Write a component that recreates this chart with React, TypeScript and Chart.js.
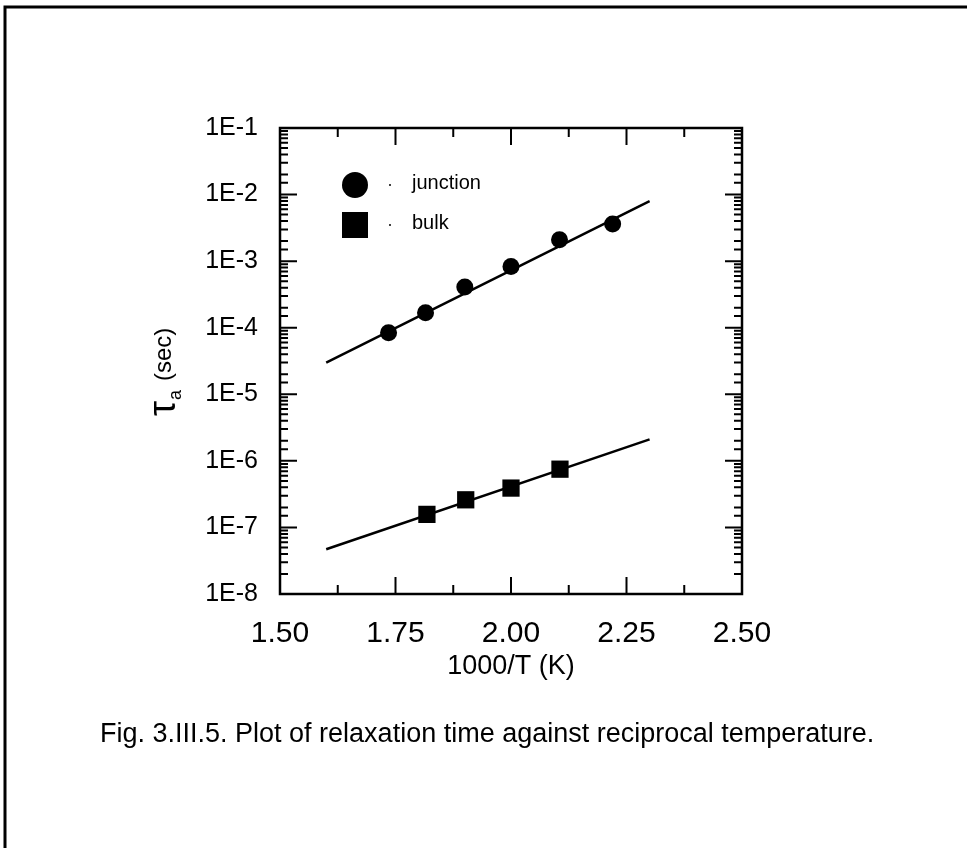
import React, { useEffect, useRef } from 'react';
import { Chart, registerables } from 'chart.js';

Chart.register(...registerables);

// ---- data ----
const junctionX = [1.735, 1.815, 1.9, 2.0, 2.105, 2.22];
const junctionY = [8.4e-5, 1.68e-4, 4.1e-4, 8.3e-4, 2.1e-3, 3.6e-3];
const bulkX = [1.818, 1.902, 2.0, 2.106];
const bulkY = [1.57e-7, 2.6e-7, 3.9e-7, 7.5e-7];
const junctionFitX = [1.6, 2.3];
const junctionFitY = [3.0e-5, 8.0e-3];
const bulkFitX = [1.6, 2.3];
const bulkFitY = [4.7e-8, 2.1e-6];

const xTickLabels = ['1.50', '1.75', '2.00', '2.25', '2.50'];
const yTickLabels = ['1E-8', '1E-7', '1E-6', '1E-5', '1E-4', '1E-3', '1E-2', '1E-1'];
const legendLabels = ['junction', 'bulk'];
const xTitle = '1000/T (K)';
const yTitleSymbol = 'τ';
const yTitleSub = 'a';
const yTitleUnit = '(sec)';
const caption = 'Fig. 3.III.5. Plot of relaxation time against reciprocal temperature.';

const FONT = '"Liberation Sans", Arial, Helvetica, sans-serif';

const toPts = (xs: number[], ys: number[]) => xs.map((x, i) => ({ x, y: ys[i] }));

const decorPlugin = {
  id: 'decor',
  beforeDraw(chart: any) {
    const ctx = chart.ctx;
    ctx.save();
    ctx.fillStyle = '#fff';
    ctx.fillRect(0, 0, chart.width, chart.height);
    // page frame (left and top)
    ctx.strokeStyle = '#000';
    ctx.lineWidth = 3;
    ctx.beginPath();
    ctx.moveTo(5, chart.height);
    ctx.lineTo(5, 7);
    ctx.lineTo(chart.width, 7);
    ctx.stroke();
    ctx.restore();
  },
  afterDraw(chart: any) {
    const ctx = chart.ctx;
    const { left, right, top, bottom } = chart.chartArea;
    const xs = chart.scales.x;
    const ys = chart.scales.y;
    ctx.save();
    ctx.strokeStyle = '#000';
    ctx.fillStyle = '#000';
    ctx.lineWidth = 2.5;
    ctx.strokeRect(left, top, right - left, bottom - top);

    // x ticks (inward, bottom & top), minor at midpoints
    ctx.lineWidth = 2;
    const xv = xs.ticks.map((t: any) => t.value);
    const drawX = (v: number, len: number) => {
      const px = xs.getPixelForValue(v);
      ctx.beginPath();
      ctx.moveTo(px, bottom);
      ctx.lineTo(px, bottom - len);
      ctx.moveTo(px, top);
      ctx.lineTo(px, top + len);
      ctx.stroke();
    };
    xv.forEach((v: number, i: number) => {
      drawX(v, 17);
      if (i < xv.length - 1) drawX((v + xv[i + 1]) / 2, 9);
    });

    // y ticks (inward, left & right)
    ys.ticks.forEach((t: any) => {
      const e = Math.log10(t.value);
      const major = Math.abs(e - Math.round(e)) < 1e-6;
      const len = major ? 17 : 8;
      const py = ys.getPixelForValue(t.value);
      ctx.beginPath();
      ctx.moveTo(left, py);
      ctx.lineTo(left + len, py);
      ctx.moveTo(right, py);
      ctx.lineTo(right - len, py);
      ctx.stroke();
    });

    // x title
    ctx.textAlign = 'center';
    ctx.textBaseline = 'middle';
    ctx.font = `27px ${FONT}`;
    ctx.fillText(xTitle, (left + right) / 2, 667);

    // y title (rotated)
    ctx.save();
    ctx.translate(175, 416);
    ctx.rotate(-Math.PI / 2);
    ctx.textAlign = 'left';
    ctx.textBaseline = 'alphabetic';
    ctx.font = `38px ${FONT}`;
    ctx.fillText(yTitleSymbol, 0, 0);
    const w1 = ctx.measureText(yTitleSymbol).width;
    ctx.font = `18px ${FONT}`;
    ctx.fillText(yTitleSub, w1 + 1, 6);
    const w2 = ctx.measureText(yTitleSub).width;
    ctx.font = `24px ${FONT}`;
    ctx.fillText(yTitleUnit, w1 + w2 + 10, -4);
    ctx.restore();

    // legend
    ctx.beginPath();
    ctx.arc(355, 185, 13, 0, Math.PI * 2);
    ctx.fill();
    ctx.fillRect(342, 212, 26, 26);
    ctx.beginPath();
    ctx.arc(390, 185, 1, 0, Math.PI * 2);
    ctx.arc(390, 225, 1, 0, Math.PI * 2);
    ctx.fill();
    ctx.textAlign = 'left';
    ctx.textBaseline = 'middle';
    ctx.font = `20px ${FONT}`;
    ctx.fillText(legendLabels[0], 412, 183);
    ctx.fillText(legendLabels[1], 412, 223);

    // caption
    ctx.font = `27px ${FONT}`;
    ctx.textAlign = 'left';
    ctx.fillText(caption, 100, 735);
    ctx.restore();
  },
};

export default function App() {
  const ref = useRef<HTMLCanvasElement>(null);
  useEffect(() => {
    document.body.style.margin = '0';
    const canvas = ref.current!;
    const chart = new Chart(canvas, {
      type: 'scatter',
      data: {
        datasets: [
          {
            label: 'junction fit',
            data: toPts(junctionFitX, junctionFitY),
            showLine: true,
            borderColor: '#000',
            borderWidth: 2.5,
            pointRadius: 0,
          },
          {
            label: 'bulk fit',
            data: toPts(bulkFitX, bulkFitY),
            showLine: true,
            borderColor: '#000',
            borderWidth: 2.5,
            pointRadius: 0,
          },
          {
            label: legendLabels[0],
            data: toPts(junctionX, junctionY),
            pointStyle: 'circle',
            pointRadius: 8.5,
            backgroundColor: '#000',
            borderColor: '#000',
            borderWidth: 0,
          },
          {
            label: legendLabels[1],
            data: toPts(bulkX, bulkY),
            pointStyle: 'rect',
            pointRadius: 12.2,
            backgroundColor: '#000',
            borderColor: '#000',
            borderWidth: 0,
          },
        ],
      },
      options: {
        responsive: false,
        animation: false,
        events: [],
        layout: { padding: { left: 0, top: 128, right: 225, bottom: 0 } },
        plugins: { legend: { display: false }, tooltip: { enabled: false } },
        scales: {
          x: {
            type: 'linear',
            min: 1.5,
            max: 2.5,
            grid: { display: false, drawTicks: false },
            border: { display: false },
            ticks: {
              stepSize: 0.25,
              autoSkip: false,
              maxRotation: 0,
              padding: 22,
              color: '#000',
              font: { family: FONT, size: 30 },
              callback: (_v: any, i: number) => xTickLabels[i],
            },
            afterFit: (s: any) => {
              s.height = 254;
            },
          },
          y: {
            type: 'logarithmic',
            min: 1e-8,
            max: 1e-1,
            grid: { display: false, drawTicks: false },
            border: { display: false },
            ticks: {
              autoSkip: false,
              padding: 22,
              color: '#000',
              font: { family: FONT, size: 25 },
              callback: (v: any) => {
                const e = Math.log10(Number(v));
                const r = Math.round(e);
                return Math.abs(e - r) < 1e-6 ? yTickLabels[r + 8] : '';
              },
            },
            afterFit: (s: any) => {
              s.width = 280;
            },
          },
        },
      },
      plugins: [decorPlugin],
    });
    return () => chart.destroy();
  }, []);
  return <canvas ref={ref} width={967} height={848} style={{ display: 'block' }} />;
}
